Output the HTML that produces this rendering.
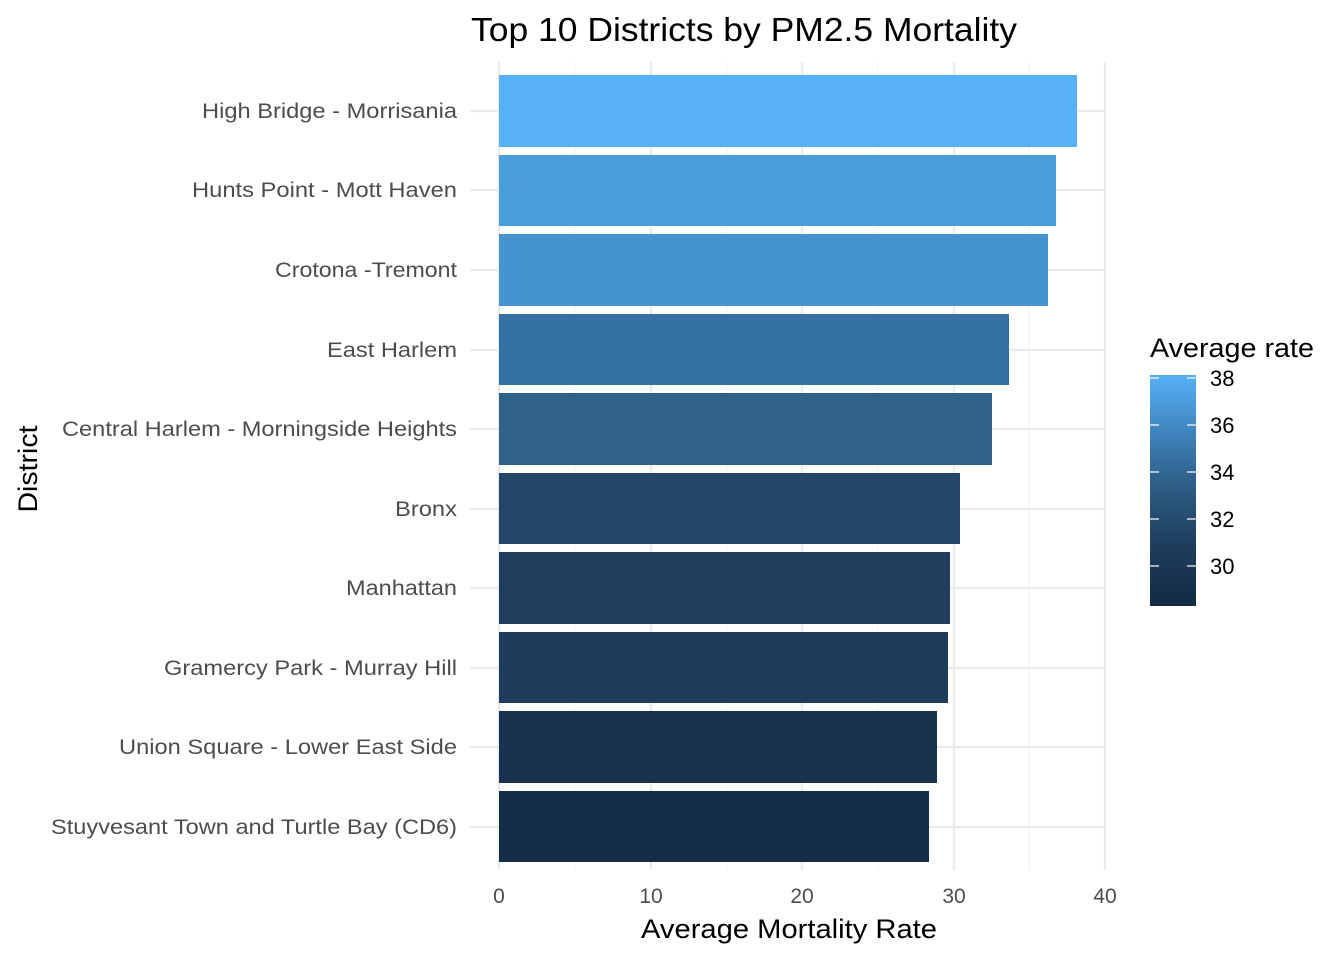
<!DOCTYPE html>
<html><head><meta charset="utf-8"><style>body{margin:0;background:#fff}svg{display:block}text{font-family:"Liberation Sans",sans-serif}</style></head>
<body>
<svg width="1344" height="960" viewBox="0 0 1344 960" xmlns="http://www.w3.org/2000/svg">
<defs><linearGradient id="g" x1="0" y1="1" x2="0" y2="0">
<stop offset="0" stop-color="#132B43"/><stop offset="0.25" stop-color="#1E3D5C"/><stop offset="0.5" stop-color="#2C5A81"/><stop offset="0.75" stop-color="#3F84BC"/><stop offset="1" stop-color="#56B1F7"/></linearGradient></defs>
<g stroke="#F2F2F2" stroke-width="1.2">
<line x1="575" y1="62" x2="575" y2="870"/><line x1="727" y1="62" x2="727" y2="870"/><line x1="878" y1="62" x2="878" y2="870"/><line x1="1029" y1="62" x2="1029" y2="870"/></g>
<g stroke="#EBEBEB" stroke-width="2.3">
<line x1="499" y1="62" x2="499" y2="870"/><line x1="651" y1="62" x2="651" y2="870"/><line x1="802" y1="62" x2="802" y2="870"/><line x1="954" y1="62" x2="954" y2="870"/><line x1="1105" y1="62" x2="1105" y2="870"/>
<line x1="470" y1="111" x2="1105" y2="111"/><line x1="470" y1="190" x2="1105" y2="190"/><line x1="470" y1="270" x2="1105" y2="270"/><line x1="470" y1="350" x2="1105" y2="350"/><line x1="470" y1="429" x2="1105" y2="429"/><line x1="470" y1="509" x2="1105" y2="509"/><line x1="470" y1="588" x2="1105" y2="588"/><line x1="470" y1="668" x2="1105" y2="668"/><line x1="470" y1="747" x2="1105" y2="747"/><line x1="470" y1="827" x2="1105" y2="827"/></g>
<rect x="499" y="75" width="578" height="72" fill="#56B1F7"/>
<rect x="499" y="155" width="557" height="71" fill="#4A9EDC"/>
<rect x="499" y="234" width="549" height="72" fill="#4594D0"/>
<rect x="499" y="314" width="510" height="71" fill="#3470A3"/>
<rect x="499" y="393" width="493" height="72" fill="#2F6189"/>
<rect x="499" y="473" width="461" height="71" fill="#234767"/>
<rect x="499" y="552" width="451" height="72" fill="#1F3E5D"/>
<rect x="499" y="632" width="449" height="71" fill="#1E3C5B"/>
<rect x="499" y="711" width="438" height="72" fill="#19334F"/>
<rect x="499" y="791" width="430" height="71" fill="#152D46"/>
<g font-size="21" fill="#4D4D4D" text-anchor="end" lengthAdjust="spacingAndGlyphs">
<text x="457" y="118" textLength="255" lengthAdjust="spacingAndGlyphs">High Bridge - Morrisania</text>
<text x="457" y="197" textLength="265" lengthAdjust="spacingAndGlyphs">Hunts Point - Mott Haven</text>
<text x="457" y="277" textLength="182" lengthAdjust="spacingAndGlyphs">Crotona -Tremont</text>
<text x="457" y="357" textLength="130" lengthAdjust="spacingAndGlyphs">East Harlem</text>
<text x="457" y="436" textLength="395" lengthAdjust="spacingAndGlyphs">Central Harlem - Morningside Heights</text>
<text x="457" y="516" textLength="62" lengthAdjust="spacingAndGlyphs">Bronx</text>
<text x="457" y="595" textLength="111" lengthAdjust="spacingAndGlyphs">Manhattan</text>
<text x="457" y="675" textLength="293" lengthAdjust="spacingAndGlyphs">Gramercy Park - Murray Hill</text>
<text x="457" y="754" textLength="338" lengthAdjust="spacingAndGlyphs">Union Square - Lower East Side</text>
<text x="457" y="834" textLength="406" lengthAdjust="spacingAndGlyphs">Stuyvesant Town and Turtle Bay (CD6)</text></g>
<g font-size="21" fill="#4D4D4D" text-anchor="middle">
<text x="499" y="903">0</text><text x="651" y="903">10</text><text x="802" y="903">20</text><text x="954" y="903">30</text><text x="1105" y="903">40</text></g>
<text x="641" y="938" font-size="27" textLength="296" lengthAdjust="spacingAndGlyphs">Average Mortality Rate</text>
<text x="37" y="469" font-size="27" text-anchor="middle" textLength="87" lengthAdjust="spacingAndGlyphs" transform="rotate(-90 37 469)">District</text>
<text x="471" y="41" font-size="33" textLength="546" lengthAdjust="spacingAndGlyphs">Top 10 Districts by PM2.5 Mortality</text>
<text x="1150" y="357" font-size="27" textLength="164" lengthAdjust="spacingAndGlyphs">Average rate</text>
<rect x="1150" y="375" width="46" height="231" fill="url(#g)"/>
<g stroke="#fff" stroke-width="1.2">
<line x1="1150" y1="378" x2="1159" y2="378"/><line x1="1187" y1="378" x2="1196" y2="378"/>
<line x1="1150" y1="425" x2="1159" y2="425"/><line x1="1187" y1="425" x2="1196" y2="425"/>
<line x1="1150" y1="472" x2="1159" y2="472"/><line x1="1187" y1="472" x2="1196" y2="472"/>
<line x1="1150" y1="519" x2="1159" y2="519"/><line x1="1187" y1="519" x2="1196" y2="519"/>
<line x1="1150" y1="566" x2="1159" y2="566"/><line x1="1187" y1="566" x2="1196" y2="566"/></g>
<g font-size="22" fill="#000">
<text x="1210" y="386">38</text><text x="1210" y="433">36</text><text x="1210" y="480">34</text><text x="1210" y="527">32</text><text x="1210" y="574">30</text></g>
</svg>
</body></html>
